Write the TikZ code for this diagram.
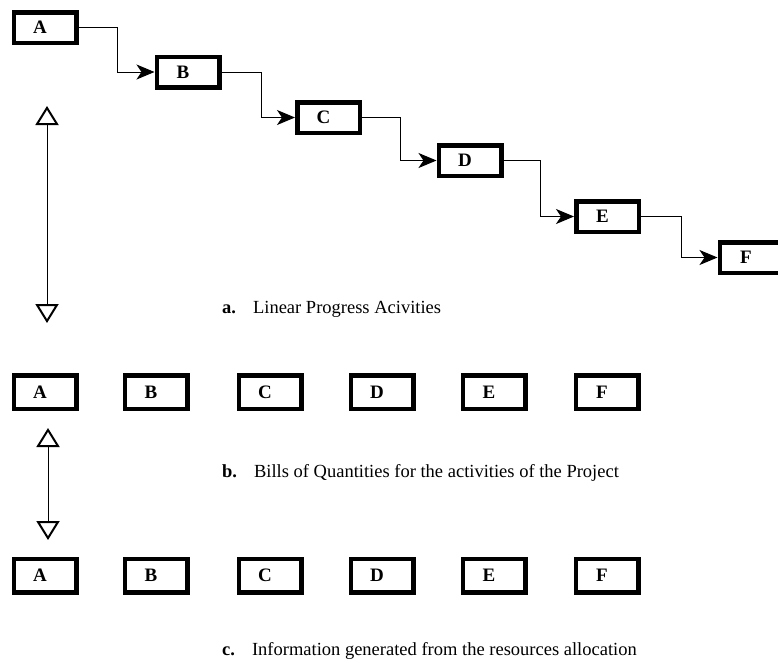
\documentclass[tikz,border=0pt]{standalone}
\usepackage{fontspec}
\setmainfont{Liberation Serif}
\usetikzlibrary{arrows.meta}
\begin{document}
\begin{tikzpicture}[x=1pt, y=-1pt,
        box/.style={draw, line width=4.5pt, minimum width=62.5pt, minimum height=30.5pt, inner sep=0pt,
            font=\fontsize{19}{21}\selectfont\bfseries, execute at end node={\hspace{10pt}}},
        boxb/.style={box, minimum height=33.5pt},
        arco/.style={line width=1pt, -{Stealth[length=18pt, width=15pt, inset=5pt]}},
        freccia/.style={line width=1pt,
            {Triangle[open, length=19pt, width=23pt, line width=2pt]}-{Triangle[open, length=19pt, width=23pt, line width=2pt]}},
        didascalia/.style={anchor=base west, inner sep=0pt, font=\fontsize{18.5}{22}\selectfont}]
        \useasboundingbox (0,0) rectangle (778,662);

        % Nodi (attivita lineari)
        \node[box] (A) at (45,27.5) {A};
        \node[box] (B) at (188,72) {B};
        \node[box] (C) at (328.5,117.5) {C};
        \node[box] (D) at (470,160.5) {D};
        \node[box] (E) at (607.5,216.5) {E};
        \node[box] (F) at (751,257.5) {F};

        % Archi
        \draw[arco] (A.east) -- ++(39,0) |- (B.west); % da A a B
        \draw[arco] (B.east) -- ++(40,0) |- (C.west); % da B a C
        \draw[arco] (C.east) -- ++(38,0) |- (D.west); % da C a D
        \draw[arco] (D.east) -- ++(37,0) |- (E.west); % da D a E
        \draw[arco] (E.east) -- ++(40,0) |- (F.west); % da E a F

        % Nodi (computo)
        \node[boxb] (A2) at (45,392) {A};
        \node[boxb] (B2) at (156,392) {B};
        \node[boxb] (C2) at (270,392) {C};
        \node[boxb] (D2) at (382,392) {D};
        \node[boxb] (E2) at (494,392) {E};
        \node[boxb] (F2) at (607,392) {F};

        % Nodi (risorse)
        \node[boxb] (A3) at (45,575.5) {A};
        \node[boxb] (B3) at (156,575.5) {B};
        \node[boxb] (C3) at (270,575.5) {C};
        \node[boxb] (D3) at (382,575.5) {D};
        \node[boxb] (E3) at (494,575.5) {E};
        \node[boxb] (F3) at (607,575.5) {F};

        % Frecce doppie
        \coordinate (su1) at (47,106);
        \coordinate (giu1) at (47,323);
        \coordinate (su2) at (48,428);
        \coordinate (giu2) at (48,540);
        \draw[freccia] (su1) -- (giu1);
        \draw[freccia] (su2) -- (giu2);

        % Didascalie
        \node[didascalia] (capa) at (222,313) {\textbf{a.}\hspace{17pt}Linear Progress Acivities};
        \node[didascalia] (capb) at (222,477) {\textbf{b.}\hspace{17pt}Bills of Quantities for the activities of the Project};
        \node[didascalia] (capc) at (222,655) {\textbf{c.}\hspace{17pt}Information generated from the resources allocation};

    \end{tikzpicture}
\end{document}
